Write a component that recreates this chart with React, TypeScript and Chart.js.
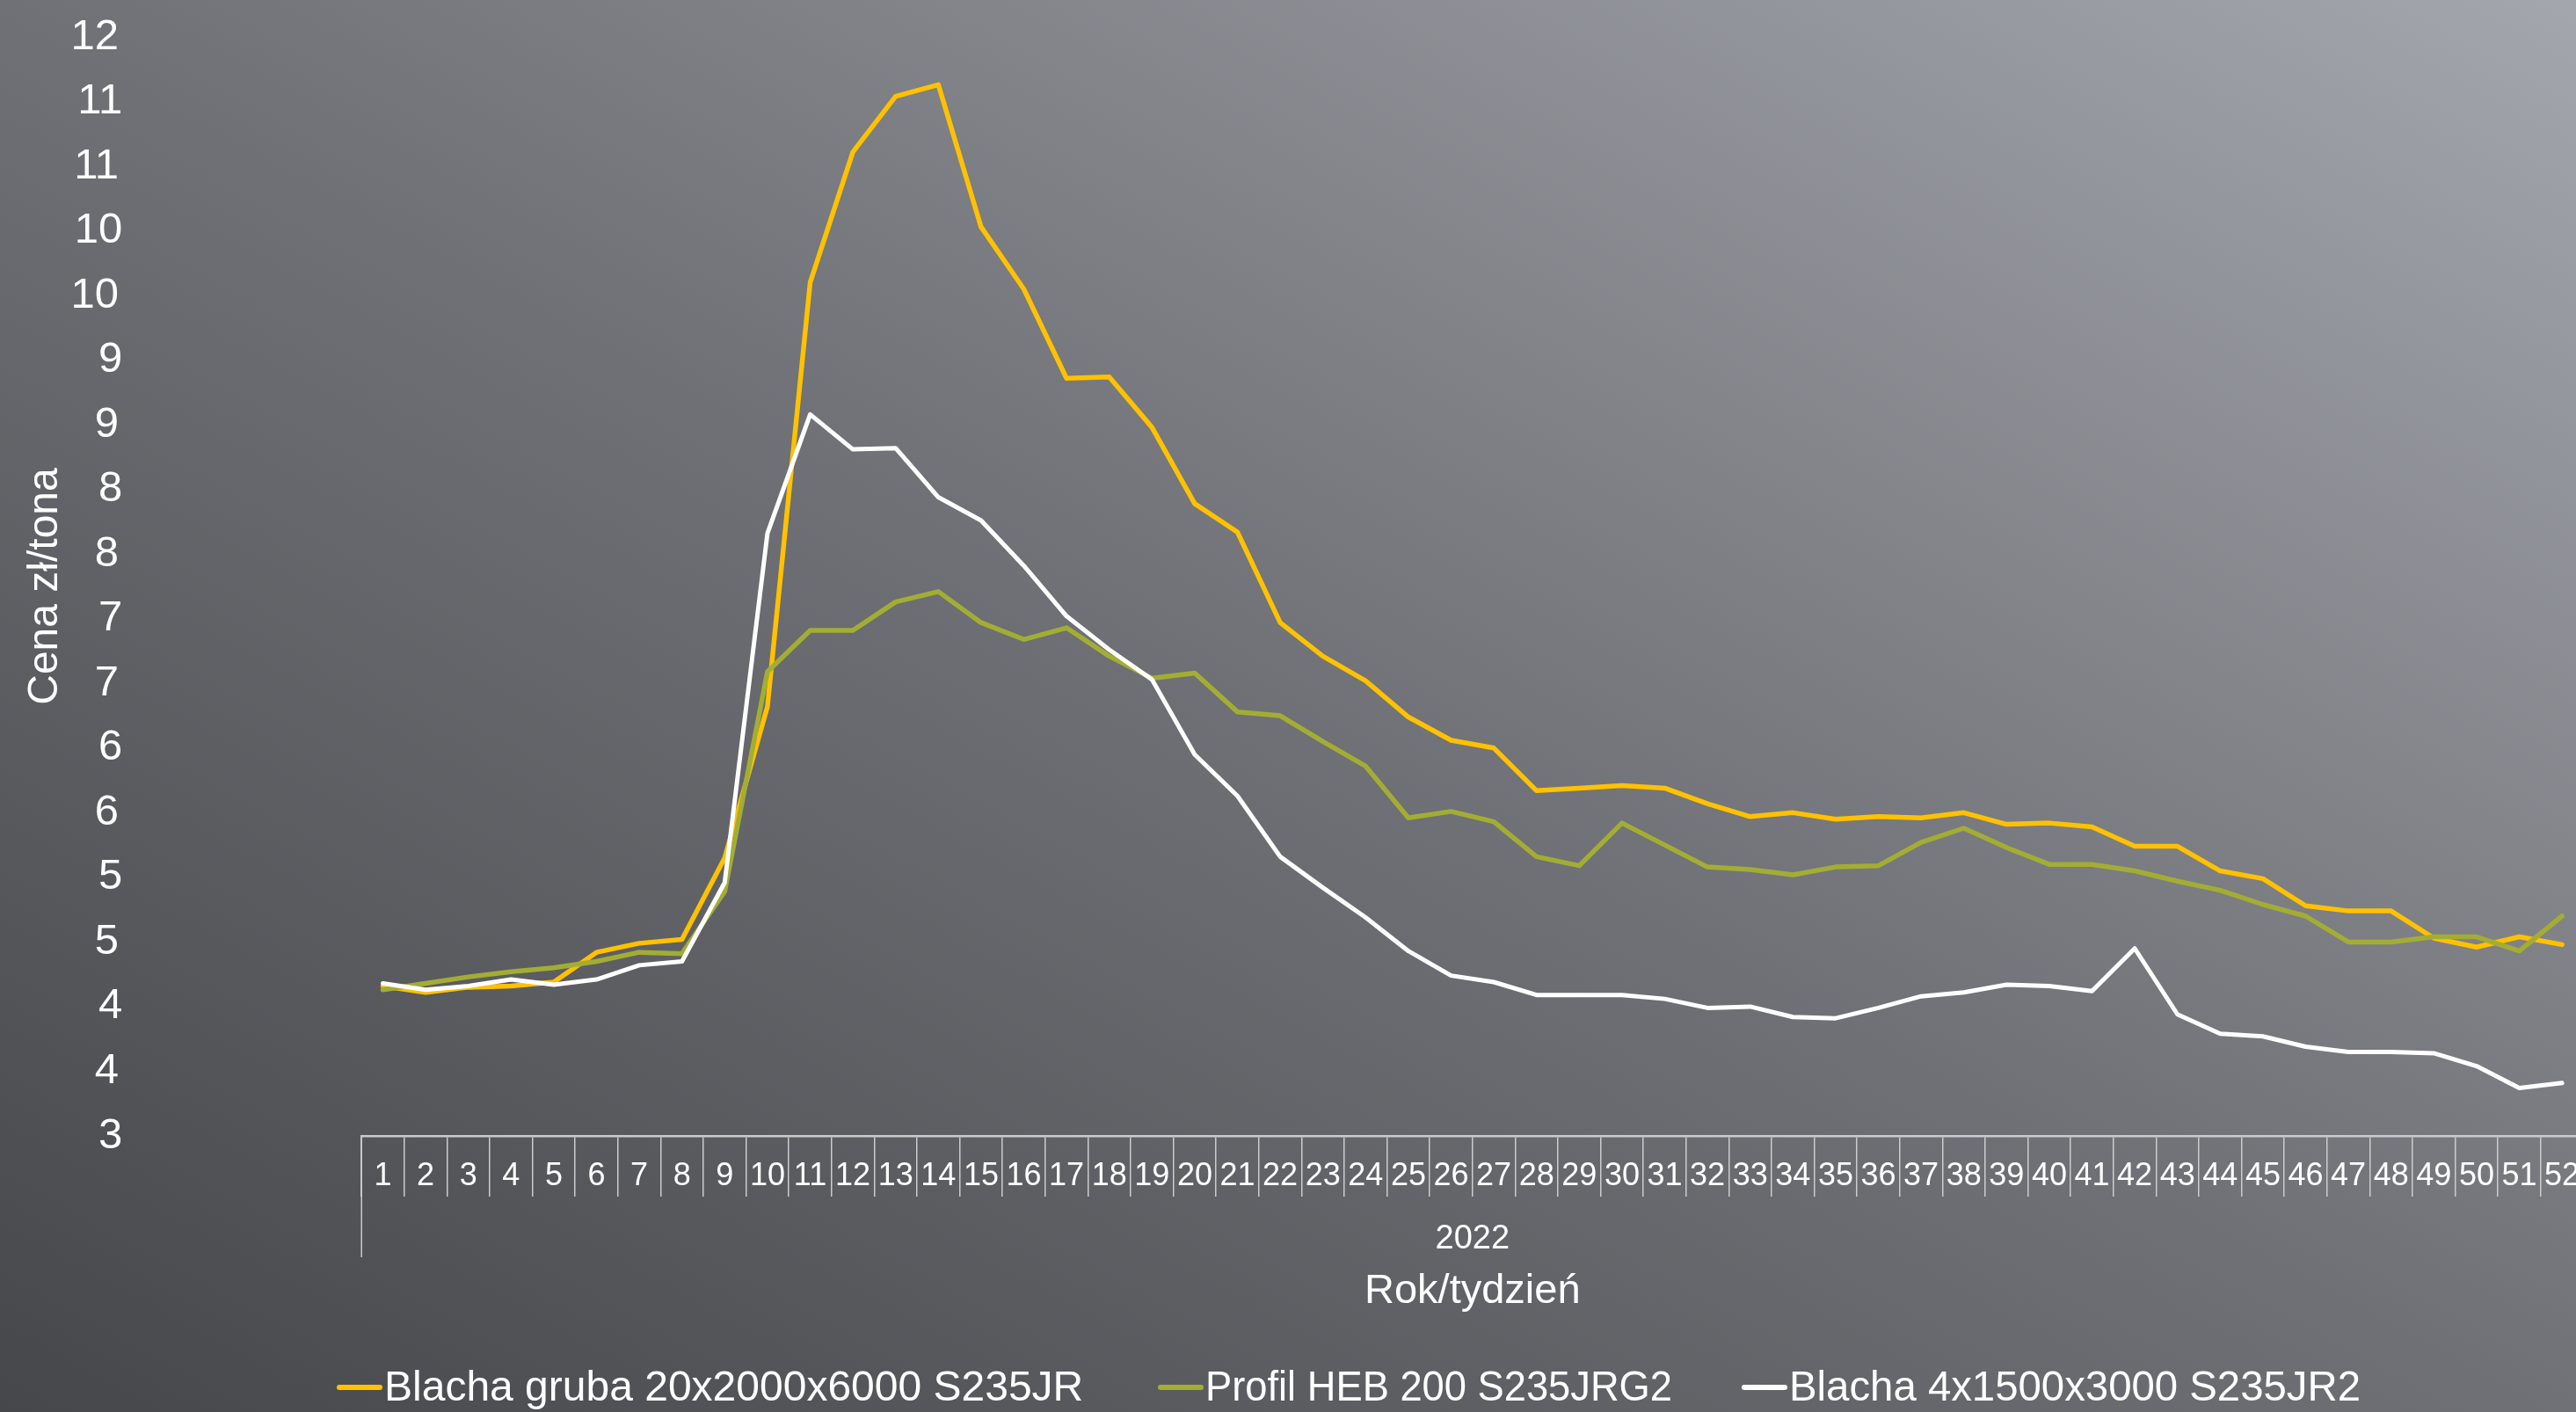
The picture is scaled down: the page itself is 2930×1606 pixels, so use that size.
import React, { useEffect, useRef } from "react";
import { Chart, registerables } from "chart.js";

Chart.register(...registerables);

// ---------- data ----------
const weeks = [
  "1", "2", "3", "4", "5", "6", "7", "8", "9", "10",
  "11", "12", "13", "14", "15", "16", "17", "18", "19", "20",
  "21", "22", "23", "24", "25", "26", "27", "28", "29", "30",
  "31", "32", "33", "34", "35", "36", "37", "38", "39", "40",
  "41", "42", "43", "44", "45", "46", "47", "48", "49", "50",
  "51", "52",
];
const yearLabel = "2022";
const xAxisTitle = "Rok/tydzień";
const yAxisTitle = "Cena zł/tona";
const seriesNames = [
  "Blacha gruba 20x2000x6000 S235JR",
  "Profil HEB 200 S235JRG2",
  "Blacha 4x1500x3000 S235JR2",
];

const blachaGruba = [
  4.16, 4.11, 4.15, 4.16, 4.19, 4.42, 4.49, 4.52, 5.15, 6.32,
  9.6, 10.61, 11.04, 11.13, 10.03, 9.55, 8.86, 8.87, 8.48, 7.89,
  7.67, 6.97, 6.71, 6.52, 6.24, 6.06, 6.0, 5.67, 5.69, 5.71,
  5.69, 5.57, 5.47, 5.5, 5.45, 5.47, 5.46, 5.5, 5.41, 5.42,
  5.39, 5.24, 5.24, 5.05, 4.99, 4.78, 4.74, 4.74, 4.53, 4.46,
  4.54, 4.48,
];
const profilHEB = [
  4.13, 4.18, 4.23, 4.27, 4.3, 4.35, 4.42, 4.41, 4.89, 6.59,
  6.91, 6.91, 7.13, 7.21, 6.97, 6.84, 6.93, 6.71, 6.54, 6.58,
  6.28, 6.25, 6.05, 5.86, 5.46, 5.51, 5.43, 5.16, 5.09, 5.42,
  5.25, 5.08, 5.06, 5.02, 5.08, 5.09, 5.27, 5.38, 5.23, 5.1,
  5.1, 5.05, 4.97, 4.9, 4.79, 4.7, 4.5, 4.5, 4.54, 4.54,
  4.43, 4.7,
];
const blachaCienka = [
  4.18, 4.13, 4.16, 4.21, 4.17, 4.21, 4.32, 4.35, 4.96, 7.66,
  8.58, 8.31, 8.32, 7.94, 7.76, 7.41, 7.02, 6.76, 6.53, 5.95,
  5.63, 5.16, 4.92, 4.69, 4.43, 4.24, 4.19, 4.09, 4.09, 4.09,
  4.06, 3.99, 4.0, 3.92, 3.91, 3.99, 4.08, 4.11, 4.17, 4.16,
  4.12, 4.45, 3.94, 3.79, 3.77, 3.69, 3.65, 3.65, 3.64, 3.54,
  3.37, 3.41,
];
const yMin = 3;
const yMax = 11.5;
const yStep = 0.5;

// ---------- styles ----------
const TEXT_FONT = "'Liberation Sans', 'DejaVu Sans', sans-serif";
const NUM_FONT = "'Liberation Sans Narrow', 'Liberation Sans', sans-serif";
const COLORS = ["#FFC100", "#A3AD33", "#FFFFFF"];
const AXIS_COLOR = "#cacbcd";
const CANVAS_W = 2940;
const CANVAS_H = 1606;
const LEGEND_X = [383, 1317, 1981];
const LEGEND_TEXT_MAX_W = [805, 531, 650];

const extrasPlugin = {
  id: "extras",
  afterDraw(chart: any) {
    const ctx = chart.ctx as CanvasRenderingContext2D;
    const area = chart.chartArea;
    ctx.save();
    // long left divider of the category axis
    ctx.strokeStyle = AXIS_COLOR;
    ctx.lineWidth = 1.5;
    ctx.beginPath();
    ctx.moveTo(area.left, area.bottom);
    ctx.lineTo(area.left, 1430);
    ctx.stroke();

    // year label (second level of category axis)
    ctx.fillStyle = "#ffffff";
    ctx.font = `38px ${NUM_FONT}`;
    ctx.textAlign = "center";
    ctx.textBaseline = "alphabetic";
    ctx.fillText(yearLabel, (area.left + area.right) / 2, 1420);

    // legend
    ctx.font = `48px ${TEXT_FONT}`;
    ctx.textAlign = "left";
    const lineLen = 52;
    const gapText = 2;
    seriesNames.forEach((name, i) => {
      const x = LEGEND_X[i];
      ctx.strokeStyle = COLORS[i];
      ctx.lineWidth = 6;
      ctx.lineCap = "round";
      ctx.beginPath();
      ctx.moveTo(x + 3, 1578);
      ctx.lineTo(x + lineLen - 3, 1578);
      ctx.stroke();
      ctx.fillStyle = "#ffffff";
      ctx.fillText(name, x + lineLen + gapText, 1593, LEGEND_TEXT_MAX_W[i]);
    });
    ctx.restore();
  },
};

export default function App() {
  const canvasRef = useRef<HTMLCanvasElement>(null);

  useEffect(() => {
    if (!canvasRef.current) return;
    const mk = (label: string, data: number[], color: string, width: number, order: number) => ({
      label,
      data,
      borderColor: color,
      backgroundColor: color,
      borderWidth: width,
      pointRadius: 0,
      pointHoverRadius: 0,
      tension: 0,
      fill: false,
      borderJoinStyle: "round" as const,
      borderCapStyle: "round" as const,
      order,
    });
    const chart = new Chart(canvasRef.current, {
      type: "line",
      data: {
        labels: weeks,
        datasets: [
          mk(seriesNames[0], blachaGruba, COLORS[0], 5.5, 3),
          mk(seriesNames[1], profilHEB, COLORS[1], 5.5, 2),
          mk(seriesNames[2], blachaCienka, COLORS[2], 5, 1),
        ],
      },
      options: {
        responsive: false,
        devicePixelRatio: 1,
        animation: false,
        layout: { padding: { left: 0, right: 1.6, top: 42, bottom: 0 } },
        plugins: {
          legend: { display: false },
          tooltip: { enabled: false },
        },
        scales: {
          x: {
            type: "category",
            offset: true,
            grid: {
              display: true,
              drawOnChartArea: false,
              drawTicks: true,
              tickLength: 69,
              offset: true,
              color: AXIS_COLOR,
              lineWidth: 1.5,
            },
            border: { display: true, color: AXIS_COLOR, width: 2.5 },
            ticks: {
              color: "#ffffff",
              font: { family: NUM_FONT, size: 36 },
              padding: -45,
              maxRotation: 0,
              minRotation: 0,
              autoSkip: false,
            },
            title: {
              display: true,
              text: xAxisTitle,
              color: "#ffffff",
              font: { family: TEXT_FONT, size: 47 },
              padding: { top: 0, bottom: 109 },
            },
            afterFit: (s: any) => {
              s.height = 314;
              s.paddingLeft = 0;
              s.paddingRight = 0;
            },
          },
          y: {
            min: yMin,
            max: yMax,
            grid: { display: false },
            border: { display: false },
            ticks: {
              stepSize: yStep,
              autoSkip: false,
              color: "#ffffff",
              font: { family: NUM_FONT, size: 49 },
              padding: 264,
              callback: (v: any) => {
                const n = Number(v);
                const r = String(Math.round(n));
                return Number.isInteger(n) ? r : r + "\u200A";
              },
            },
            title: {
              display: true,
              text: yAxisTitle,
              color: "#ffffff",
              font: { family: TEXT_FONT, size: 48 },
              padding: { top: 23, bottom: 0 },
            },
            afterFit: (s: any) => {
              s.width = 411.2;
              s.paddingTop = 0;
              s.paddingBottom = 0;
            },
          },
        },
      },
      plugins: [extrasPlugin],
    });
    return () => chart.destroy();
  }, []);

  return (
    <div
      style={{
        position: "fixed",
        left: 0,
        top: 0,
        width: 2930,
        height: 1606,
        overflow: "hidden",
        background: "linear-gradient(to top right, #46474b 0%, #6f7176 50%, #a3a6ad 100%)",
      }}
    >
      <canvas
        ref={canvasRef}
        width={CANVAS_W}
        height={CANVAS_H}
        style={{ display: "block", width: CANVAS_W, height: CANVAS_H }}
      />
    </div>
  );
}
